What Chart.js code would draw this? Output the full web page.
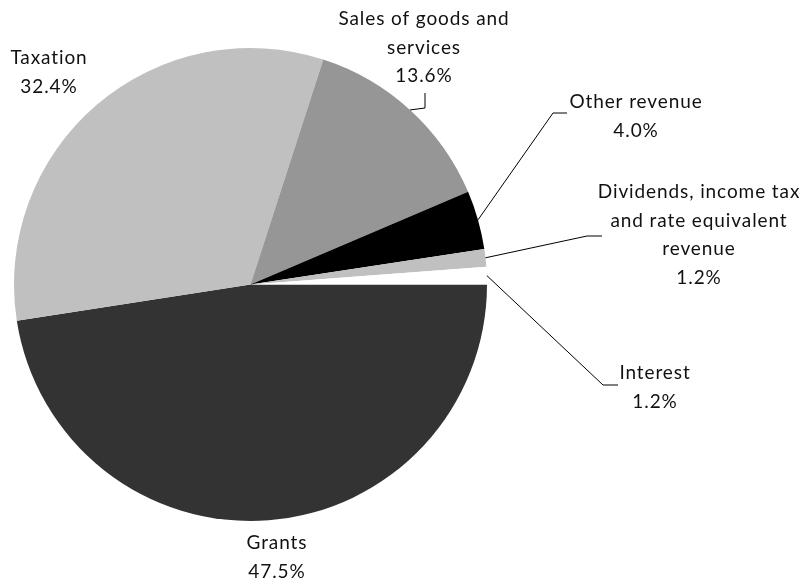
<!DOCTYPE html>
<html>
<head>
<meta charset="utf-8">
<script src="https://cdn.jsdelivr.net/npm/chart.js@4"></script>
<style>
  html, body { margin: 0; padding: 0; background: #fff; }
  #wrap { width: 811px; height: 585px; }
</style>
</head>
<body>
<div id="wrap"><canvas id="revenue-pie" width="811" height="585"></canvas></div>
<script>
const canvasElement = document.getElementById("revenue-pie");

// data, in drawing order (clockwise from 3 o'clock)
const categories = [
  ["Grants"],
  ["Taxation"],
  ["Sales of goods and", "services"],
  ["Other revenue"],
  ["Dividends, income tax", "and rate equivalent", "revenue"],
  ["Interest"],
];
const shares = [47.5, 32.4, 13.6, 4.0, 1.2, 1.2];

const sliceColors = ["#333333", "#c0c0c0", "#969696", "#000000", "#c0c0c0", "#ffffff"];

// where each label sits (centre x, first line y) and the leader line bends
const labelSpots = [
  { x: 277, y: 543, bend: null },
  { x: 49, y: 58, bend: null },
  { x: 424, y: 19, bend: [[425, 108], [425, 93]] },
  { x: 636, y: 102, bend: [[553, 113], [567, 113]] },
  { x: 699, y: 192, bend: [[587, 236], [602, 236]] },
  { x: 655, y: 373, bend: [[603, 385], [618, 385]] },
];

const lineGap = 28.5;
const labelFont = "19px Lato";

const labelPlugin = {
  id: "sliceLabels",
  afterDatasetsDraw(chart) {
    const ctx = chart.ctx;
    const meta = chart.getDatasetMeta(0);
    ctx.save();
    meta.data.forEach((arc, i) => {
      const p = arc.getProps(["x", "y", "startAngle", "endAngle", "outerRadius"], true);
      const mid = (p.startAngle + p.endAngle) / 2;
      const spot = labelSpots[i];
      if (spot.bend) {
        ctx.beginPath();
        ctx.strokeStyle = "#000";
        ctx.lineWidth = 1;
        ctx.moveTo(p.x + Math.cos(mid) * p.outerRadius, p.y + Math.sin(mid) * p.outerRadius);
        spot.bend.forEach(([bx, by]) => ctx.lineTo(bx, by));
        ctx.stroke();
      }
      const lines = categories[i].concat([shares[i].toFixed(1) + "%"]);
      ctx.font = labelFont;
      ctx.fillStyle = "#111";
      ctx.textAlign = "center";
      ctx.textBaseline = "middle";
      try { ctx.letterSpacing = "0.9px"; } catch (e) {}
      lines.forEach((t, k) => ctx.fillText(t, spot.x, spot.y + k * lineGap));
    });
    ctx.restore();
  },
};

const config = {
  type: "pie",
  data: {
    labels: categories.map((c) => c.join(" ")),
    datasets: [
      {
        data: shares,
        backgroundColor: sliceColors,
        borderWidth: 0,
      },
    ],
  },
  options: {
    responsive: false,
    animation: false,
    rotation: 90,
    layout: {
      padding: { left: 14, right: 324, top: 48, bottom: 64 },
    },
    plugins: {
      legend: { display: false },
      tooltip: { enabled: false },
    },
  },
  plugins: [labelPlugin],
};

const revenueChart = new Chart(canvasElement, config);
</script>
</body>
</html>
